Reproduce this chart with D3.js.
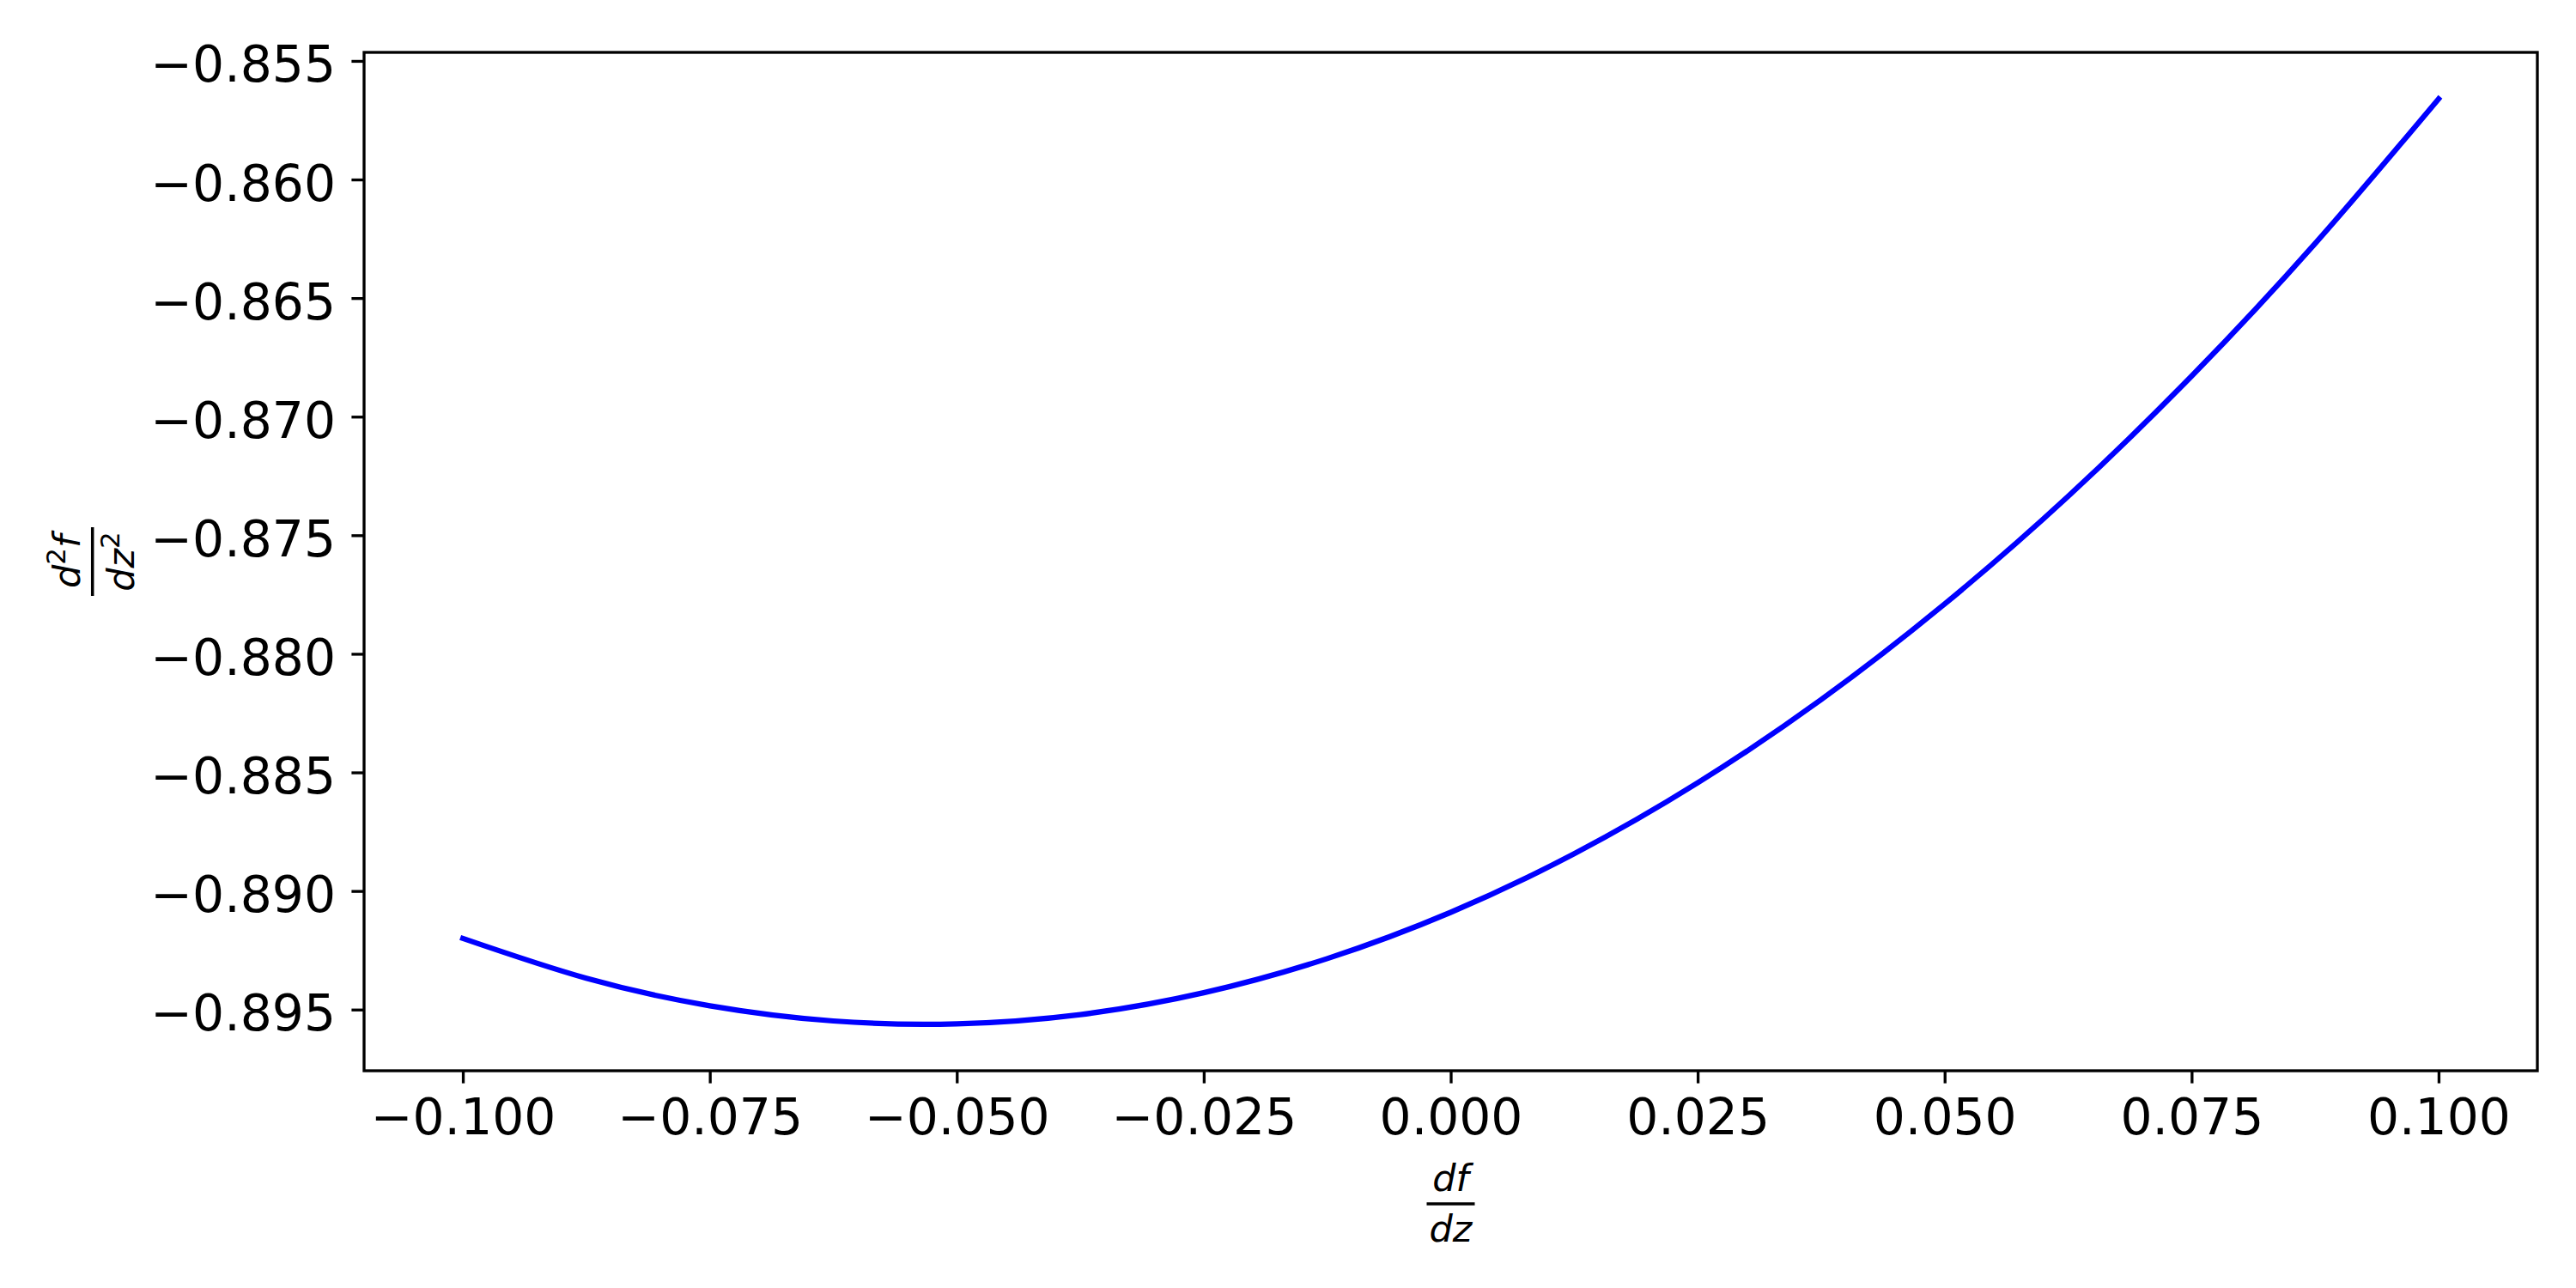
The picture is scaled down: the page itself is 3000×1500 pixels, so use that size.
<!DOCTYPE html>
<html>
<head>
<meta charset="utf-8">
<script src="https://cdn.jsdelivr.net/npm/d3@7"></script>
<style>
  body { margin: 0; background: #fff; }
  svg { display: block; }
</style>
</head>
<body>
<script>
// values
var dfdz = [-0.1, -0.0875, -0.075, -0.0625, -0.05, -0.0375, -0.025, -0.0125, 0,
            0.0125, 0.025, 0.0375, 0.05, 0.0625, 0.075, 0.0875, 0.1];
var d2fdz2 = [-0.89200, -0.89368, -0.89484, -0.89548, -0.89560, -0.89521, -0.89429, -0.89285, -0.89090,
              -0.88843, -0.88544, -0.88193, -0.87790, -0.87336, -0.86829, -0.86270, -0.85660];
var xTicks = [-0.1, -0.075, -0.05, -0.025, 0, 0.025, 0.05, 0.075, 0.1];
var yTicks = [-0.895, -0.89, -0.885, -0.88, -0.875, -0.87, -0.865, -0.86, -0.855];

var width = 3000, height = 1500;
// plot box (don't call it "top", that's window.top)
var plotL = 424, plotR = 2955, plotT = 61, plotB = 1247;
var fontSize = 58.3;
var tickLen = 14.6;

var x = d3.scaleLinear().domain([-0.11, 0.11]).range([plotL, plotR]);
var y = d3.scaleLinear().domain([-0.89758, -0.85464]).range([plotB, plotT]);

var svg = d3.select("body").append("svg")
    .attr("width", width)
    .attr("height", height)
    .style("font-family", "'DejaVu Sans'");

svg.append("rect").attr("width", width).attr("height", height).attr("fill", "#fff");

// the curve
var line = d3.line()
    .x(function(d, i) { return x(dfdz[i]); })
    .y(function(d) { return y(d); })
    .curve(d3.curveNatural);

svg.append("path")
    .datum(d2fdz2)
    .attr("d", line)
    .attr("fill", "none")
    .attr("stroke", "#0000ff")
    .attr("stroke-width", 6.25)
    .attr("stroke-linecap", "square");

// axes
var fmt = d3.format(".3f");

var gx = svg.append("g")
    .attr("transform", "translate(0," + plotB + ")")
    .call(d3.axisBottom(x).tickValues(xTicks).tickFormat(fmt).tickSize(tickLen).tickSizeOuter(0));

gx.selectAll("text").attr("y", 74).attr("dy", 0);

var gy = svg.append("g")
    .attr("transform", "translate(" + plotL + ",0)")
    .call(d3.axisLeft(y).tickValues(yTicks).tickFormat(fmt).tickSize(tickLen).tickSizeOuter(0));

gy.selectAll("text").attr("x", -33).attr("dy", 24);

svg.selectAll(".domain").remove();
svg.selectAll(".tick line").attr("stroke", "#000").attr("stroke-width", 3.33);
svg.selectAll(".tick text")
    .attr("fill", "#000")
    .style("font-size", fontSize + "px")
    .style("font-family", "'DejaVu Sans'");

// frame
svg.append("rect")
    .attr("x", plotL).attr("y", plotT)
    .attr("width", plotR - plotL).attr("height", plotB - plotT)
    .attr("fill", "none")
    .attr("stroke", "#000")
    .attr("stroke-width", 3.33)
    .attr("stroke-linejoin", "miter");

// x label: df / dz
var lab = 43;
var xl = svg.append("g")
    .attr("transform", "translate(" + (plotL + plotR) / 2 + "," + 1402 + ")")
    .style("font-size", lab + "px");
xl.append("text").attr("y", -15).attr("text-anchor", "middle")
    .style("font-style", "italic").text("df");
xl.append("line").attr("x1", -28).attr("x2", 28).attr("stroke", "#000").attr("stroke-width", 3.5);
xl.append("text").attr("y", 44).attr("text-anchor", "middle")
    .style("font-style", "italic").text("dz");

// y label: d2f / dz2, rotated
var yl = svg.append("g")
    .attr("transform", "translate(107.7," + (plotT + plotB) / 2 + ") rotate(-90)")
    .style("font-size", lab + "px");
var num = yl.append("text").attr("y", -15).attr("text-anchor", "middle");
num.append("tspan").style("font-style", "italic").text("d");
num.append("tspan").attr("dy", -17).style("font-size", "31px").text("2");
num.append("tspan").attr("dy", 17).style("font-style", "italic").text("f");
yl.append("line").attr("x1", -40).attr("x2", 40).attr("stroke", "#000").attr("stroke-width", 3.5);
var den = yl.append("text").attr("y", 48).attr("text-anchor", "middle");
den.append("tspan").style("font-style", "italic").text("dz");
den.append("tspan").attr("dy", -17).style("font-size", "31px").text("2");
</script>
</body>
</html>
